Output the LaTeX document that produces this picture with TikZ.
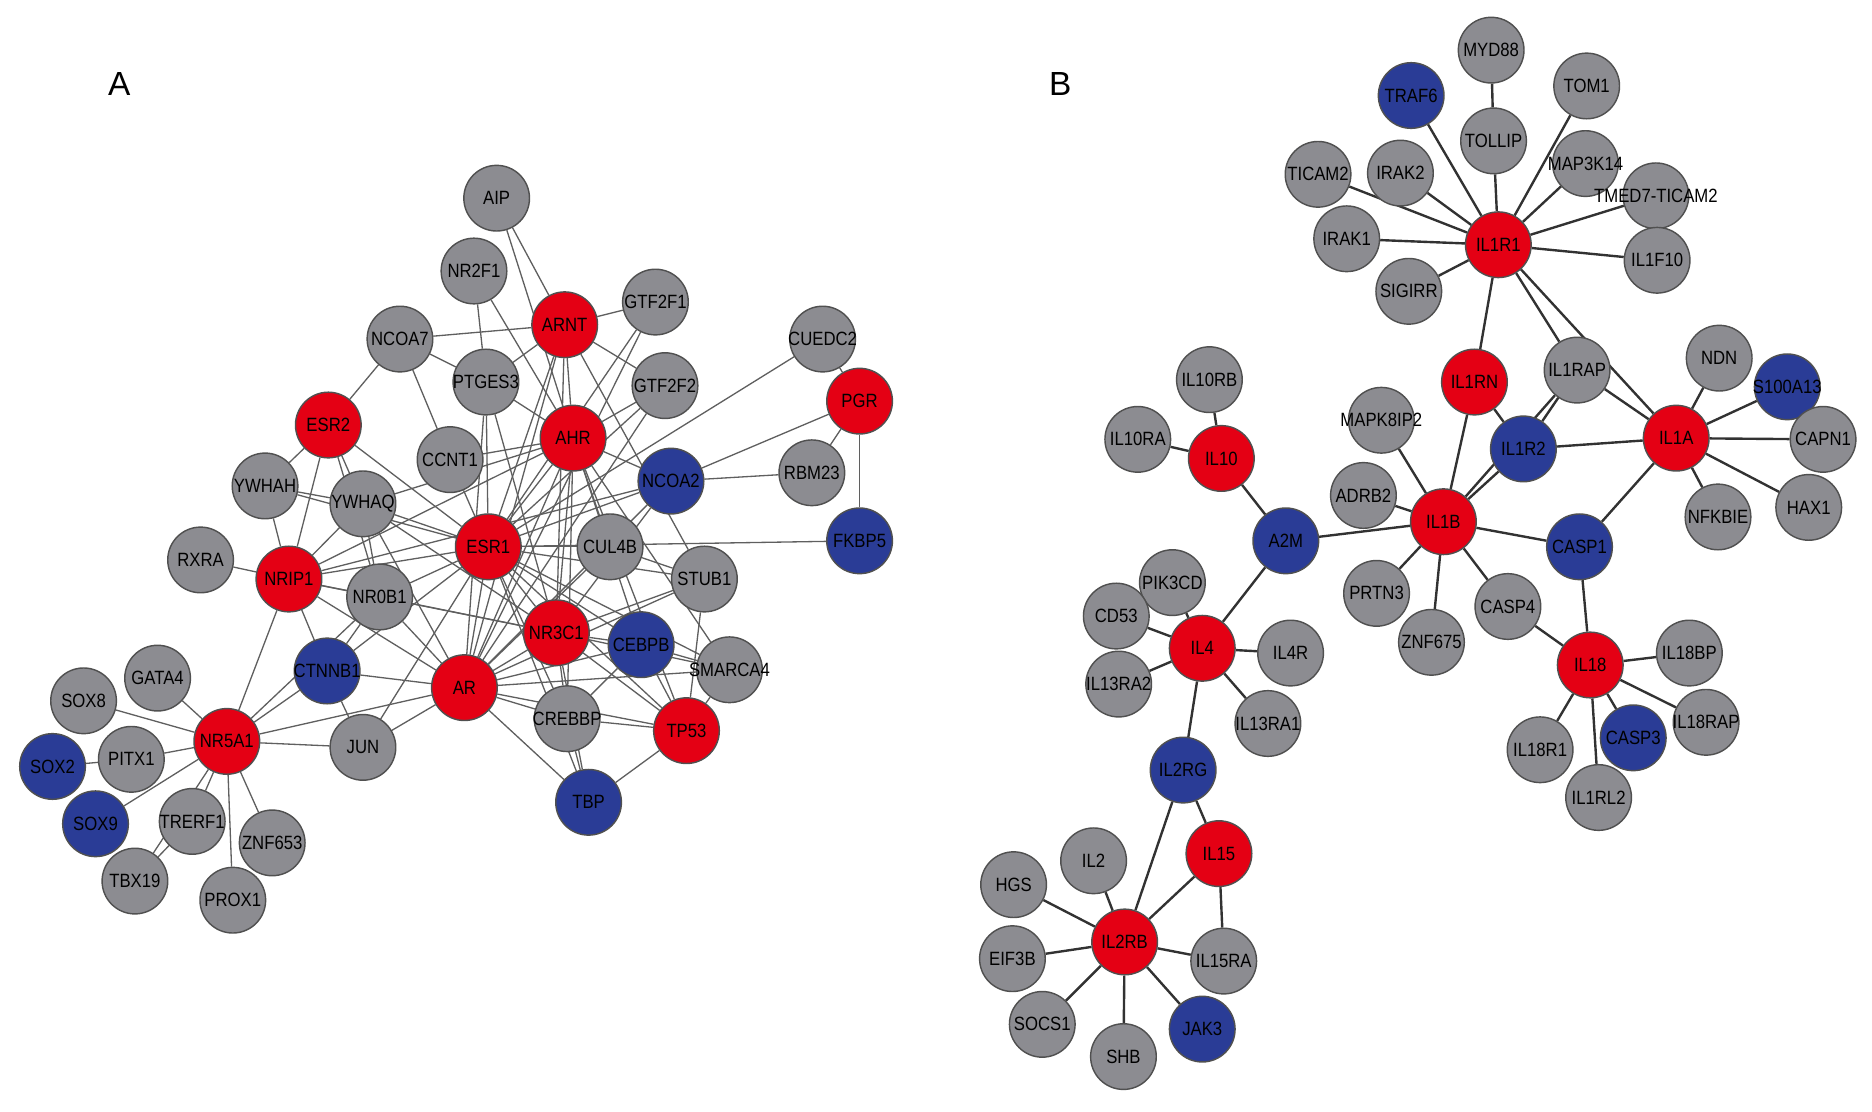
\documentclass[tikz,border=0pt]{standalone}
\usepackage{fontspec}
\setmainfont{Liberation Sans}
\pgfdeclarelayer{bg}
\pgfsetlayers{bg,main}
\definecolor{ngray}{RGB}{140,140,145}
\definecolor{nred}{RGB}{228,0,20}
\definecolor{nblue}{RGB}{42,60,150}
\definecolor{nborder}{RGB}{80,80,80}
\definecolor{edgeA}{RGB}{95,95,95}
\definecolor{edgeB}{RGB}{50,50,50}
\tikzset{
 gene/.style={circle, minimum size=55pt, inner sep=0pt, draw=nborder, line width=1.2pt,
   font=\fontsize{14}{14}\selectfont, text=black},
 gnode/.style={gene, fill=ngray},
 rnode/.style={gene, fill=nred},
 bnode/.style={gene, fill=nblue},
 ea/.style={draw=edgeA, line width=1.1pt},
 eb/.style={draw=edgeB, line width=2pt},
 panel/.style={font=\fontsize{28}{28}\selectfont}
}
\newcommand{\genenode}[4]{\node[#1] (#2) at (#3) {\makebox[0pt]{\scalebox{1}[1.15]{#4}}};}
\begin{document}
\begin{tikzpicture}[x=1pt,y=-1pt]
\useasboundingbox (0,0) rectangle (1568,931);
\node[panel] (labA) at (100,70) {A};
\node[panel] (labB) at (888,70) {B};
% ---------- Panel A ----------
\genenode{gnode}{AIP}{416,166}{AIP}
\genenode{gnode}{NR2F1}{397,227}{NR2F1}
\genenode{rnode}{ARNT}{473,272}{ARNT}
\genenode{gnode}{GTF2F1}{549,253}{GTF2F1}
\genenode{gnode}{NCOA7}{335,284}{NCOA7}
\genenode{gnode}{PTGES3}{407,320}{PTGES3}
\genenode{gnode}{GTF2F2}{557,323}{GTF2F2}
\genenode{gnode}{CUEDC2}{689,284}{CUEDC2}
\genenode{rnode}{PGR}{720,336}{PGR}
\genenode{rnode}{ESR2}{275,356}{ESR2}
\genenode{rnode}{AHR}{480,367}{AHR}
\genenode{gnode}{CCNT1}{377,385}{CCNT1}
\genenode{bnode}{NCOA2}{562,403}{NCOA2}
\genenode{gnode}{RBM23}{680,396}{RBM23}
\genenode{gnode}{YWHAH}{222,407}{YWHAH}
\genenode{gnode}{YWHAQ}{304,422}{YWHAQ}
\genenode{rnode}{ESR1}{409,458}{ESR1}
\genenode{gnode}{CUL4B}{511,458}{CUL4B}
\genenode{bnode}{FKBP5}{720,453}{FKBP5}
\genenode{gnode}{RXRA}{168,469}{RXRA}
\genenode{rnode}{NRIP1}{242,485}{NRIP1}
\genenode{gnode}{NR0B1}{318,500}{NR0B1}
\genenode{gnode}{STUB1}{590,485}{STUB1}
\genenode{rnode}{NR3C1}{466,530}{NR3C1}
\genenode{bnode}{CEBPB}{537,540}{CEBPB}
\genenode{gnode}{SMARCA4}{611,561}{SMARCA4}
\genenode{bnode}{CTNNB1}{274,562}{CTNNB1}
\genenode{rnode}{AR}{389,576}{AR}
\genenode{gnode}{GATA4}{132,568}{GATA4}
\genenode{gnode}{SOX8}{70,587}{SOX8}
\genenode{gnode}{CREBBP}{475,602}{CREBBP}
\genenode{rnode}{TP53}{575,612}{TP53}
\genenode{rnode}{NR5A1}{190,621}{NR5A1}
\genenode{gnode}{JUN}{304,626}{JUN}
\genenode{gnode}{PITX1}{110,636}{PITX1}
\genenode{bnode}{SOX2}{44,642}{SOX2}
\genenode{bnode}{TBP}{493,672}{TBP}
\genenode{bnode}{SOX9}{80,690}{SOX9}
\genenode{gnode}{TRERF1}{161,688}{TRERF1}
\genenode{gnode}{ZNF653}{228,706}{ZNF653}
\genenode{gnode}{TBX19}{113,738}{TBX19}
\genenode{gnode}{PROX1}{195,754}{PROX1}
% ---------- Panel B ----------
\genenode{gnode}{MYD88}{1249,42}{MYD88}
\genenode{bnode}{TRAF6}{1182,80}{TRAF6}
\genenode{gnode}{TOM1}{1329,72}{TOM1}
\genenode{gnode}{TOLLIP}{1251,118}{TOLLIP}
\genenode{gnode}{TICAM2}{1104,146}{TICAM2}
\genenode{gnode}{IRAK2}{1173,145}{IRAK2}
\genenode{gnode}{MAP3K14}{1328,137}{MAP3K14}
\genenode{gnode}{TMED}{1387,164}{TMED7-TICAM2}
\genenode{gnode}{IRAK1}{1128,200}{IRAK1}
\genenode{rnode}{IL1R1}{1255,205}{IL1R1}
\genenode{gnode}{IL1F10}{1388,218}{IL1F10}
\genenode{gnode}{SIGIRR}{1180,244}{SIGIRR}
\genenode{gnode}{IL10RB}{1013,318}{IL10RB}
\genenode{rnode}{IL1RN}{1235,320}{IL1RN}
\genenode{gnode}{IL1RAP}{1321,310}{IL1RAP}
\genenode{gnode}{NDN}{1440,300}{NDN}
\genenode{bnode}{S100A13}{1497,324}{S100A13}
\genenode{gnode}{MAPK8IP2}{1157,352}{MAPK8IP2}
\genenode{bnode}{IL1R2}{1276,376}{IL1R2}
\genenode{rnode}{IL1A}{1404,367}{IL1A}
\genenode{gnode}{CAPN1}{1527,368}{CAPN1}
\genenode{gnode}{IL10RA}{953,368}{IL10RA}
\genenode{rnode}{IL10}{1023,384}{IL10}
\genenode{gnode}{ADRB2}{1142,415}{ADRB2}
\genenode{rnode}{IL1B}{1209,437}{IL1B}
\genenode{gnode}{NFKBIE}{1439,433}{NFKBIE}
\genenode{gnode}{HAX1}{1515,425}{HAX1}
\genenode{bnode}{A2M}{1077,453}{A2M}
\genenode{bnode}{CASP1}{1323,458}{CASP1}
\genenode{gnode}{PIK3CD}{982,488}{PIK3CD}
\genenode{gnode}{CD53}{935,516}{CD53}
\genenode{gnode}{PRTN3}{1153,497}{PRTN3}
\genenode{gnode}{CASP4}{1263,508}{CASP4}
\genenode{gnode}{ZNF675}{1199,538}{ZNF675}
\genenode{rnode}{IL4}{1007,543}{IL4}
\genenode{gnode}{IL4R}{1081,547}{IL4R}
\genenode{rnode}{IL18}{1332,557}{IL18}
\genenode{gnode}{IL18BP}{1415,547}{IL18BP}
\genenode{gnode}{IL13RA2}{937,573}{IL13RA2}
\genenode{gnode}{IL13RA1}{1062,606}{IL13RA1}
\genenode{gnode}{IL18R1}{1290,628}{IL18R1}
\genenode{bnode}{CASP3}{1368,618}{CASP3}
\genenode{gnode}{IL18RAP}{1429,605}{IL18RAP}
\genenode{gnode}{IL1RL2}{1339,668}{IL1RL2}
\genenode{bnode}{IL2RG}{991,645}{IL2RG}
\genenode{rnode}{IL15}{1021,715}{IL15}
\genenode{gnode}{IL2}{916,721}{IL2}
\genenode{gnode}{HGS}{849,741}{HGS}
\genenode{rnode}{IL2RB}{942,789}{IL2RB}
\genenode{gnode}{EIF3B}{848,803}{EIF3B}
\genenode{gnode}{IL15RA}{1025,805}{IL15RA}
\genenode{gnode}{SOCS1}{873,858}{SOCS1}
\genenode{bnode}{JAK3}{1007,862}{JAK3}
\genenode{gnode}{SHB}{941,885}{SHB}
% ---------- Edges ----------
\begin{pgfonlayer}{bg}
\foreach \a/\b in {AIP/ARNT, AIP/AHR, NR2F1/PTGES3, NR2F1/AHR, NCOA7/ARNT, NCOA7/PTGES3,
  NCOA7/CCNT1, NCOA7/ESR2, ARNT/GTF2F1, ARNT/PTGES3, ARNT/AHR, ARNT/GTF2F2, ARNT/ESR1,
  ARNT/AR, ARNT/NR3C1, ARNT/STUB1, GTF2F1/ESR1, GTF2F1/AR, GTF2F2/AHR, GTF2F2/ESR1, GTF2F2/AR,
  PTGES3/AHR, PTGES3/ESR1, PTGES3/AR, PTGES3/NR3C1, ESR2/YWHAH, ESR2/NRIP1, ESR2/YWHAQ,
  ESR2/ESR1, ESR2/NR0B1, CCNT1/AHR, CCNT1/ESR1, AHR/ESR1, AHR/AR, AHR/NR3C1, AHR/CUL4B,
  AHR/CEBPB, AHR/TP53, AHR/NCOA2, AHR/YWHAQ, AHR/NRIP1, AHR/CREBBP, AHR/SMARCA4,
  CUEDC2/ESR1, PGR/CUEDC2, PGR/NCOA2, PGR/RBM23, PGR/FKBP5, NCOA2/RBM23, NCOA2/ESR1,
  NCOA2/AR, NCOA2/NR3C1, NCOA2/NRIP1, ESR1/FKBP5, YWHAH/YWHAQ, YWHAH/NRIP1, YWHAH/ESR1,
  YWHAQ/NRIP1, YWHAQ/ESR1, YWHAQ/AR, YWHAQ/NR0B1, YWHAQ/NR3C1, RXRA/NRIP1, NRIP1/ESR1,
  NRIP1/NR0B1, NRIP1/AR, NRIP1/CTNNB1, NRIP1/NR5A1, NRIP1/NR3C1, NR0B1/ESR1, NR0B1/AR,
  NR0B1/CTNNB1, NR0B1/NR5A1, NR0B1/NR3C1, ESR1/CUL4B, ESR1/NR3C1, ESR1/AR, ESR1/CREBBP,
  ESR1/TP53, ESR1/CEBPB, ESR1/SMARCA4, ESR1/STUB1, ESR1/JUN, ESR1/TBP, ESR1/CTNNB1,
  CUL4B/AR, CUL4B/STUB1, STUB1/NR3C1, STUB1/TP53, STUB1/AR, NR3C1/CEBPB, NR3C1/CREBBP,
  NR3C1/TP53, NR3C1/TBP, NR3C1/AR, NR3C1/SMARCA4, CEBPB/SMARCA4, CEBPB/TP53, CEBPB/AR,
  SMARCA4/AR, SMARCA4/TP53, CREBBP/TBP, CREBBP/TP53, CREBBP/AR, TP53/TBP, TP53/AR, AR/TBP,
  AR/JUN, AR/CTNNB1, AR/NR5A1, CTNNB1/JUN, CTNNB1/NR5A1, NR5A1/JUN, NR5A1/GATA4, NR5A1/SOX8,
  NR5A1/PITX1, NR5A1/SOX9, NR5A1/TRERF1, NR5A1/ZNF653, NR5A1/PROX1, NR5A1/TBX19, SOX2/PITX1,
  TRERF1/TBX19, CEBPB/CREBBP}
  \draw[ea] (\a) -- (\b);
\foreach \a/\b in {MYD88/TOLLIP, TOLLIP/IL1R1, TRAF6/IL1R1, TOM1/IL1R1, MAP3K14/IL1R1,
  TMED/IL1R1, IL1F10/IL1R1, IRAK1/IL1R1, SIGIRR/IL1R1, IRAK2/IL1R1, TICAM2/IL1R1,
  IL1R1/IL1RN, IL1R1/IL1RAP, IL1R1/IL1A, IL1RAP/IL1A, IL1RAP/IL1R2, IL1RN/IL1R2, IL1RN/IL1B,
  IL1R2/IL1A, IL1R2/IL1B, IL1B/IL1RAP, IL1B/MAPK8IP2, IL1B/ADRB2, IL1B/A2M, IL1B/PRTN3,
  IL1B/ZNF675, IL1B/CASP4, IL1B/CASP1, IL1A/NDN, IL1A/S100A13, IL1A/CAPN1, IL1A/HAX1,
  IL1A/NFKBIE, IL1A/CASP1, CASP1/IL18, CASP4/IL18, IL18/IL18BP, IL18/IL18RAP, IL18/CASP3,
  IL18/IL1RL2, IL18/IL18R1, A2M/IL10, A2M/IL4, IL10/IL10RB, IL10/IL10RA, IL4/PIK3CD,
  IL4/CD53, IL4/IL13RA2, IL4/IL4R, IL4/IL13RA1, IL4/IL2RG, IL2RG/IL15, IL2RG/IL2RB,
  IL15/IL2RB, IL15/IL15RA, IL2RB/IL2, IL2RB/HGS, IL2RB/EIF3B, IL2RB/SOCS1, IL2RB/SHB,
  IL2RB/JAK3, IL2RB/IL15RA}
  \draw[eb] (\a) -- (\b);
\end{pgfonlayer}
\end{tikzpicture}
\end{document}
